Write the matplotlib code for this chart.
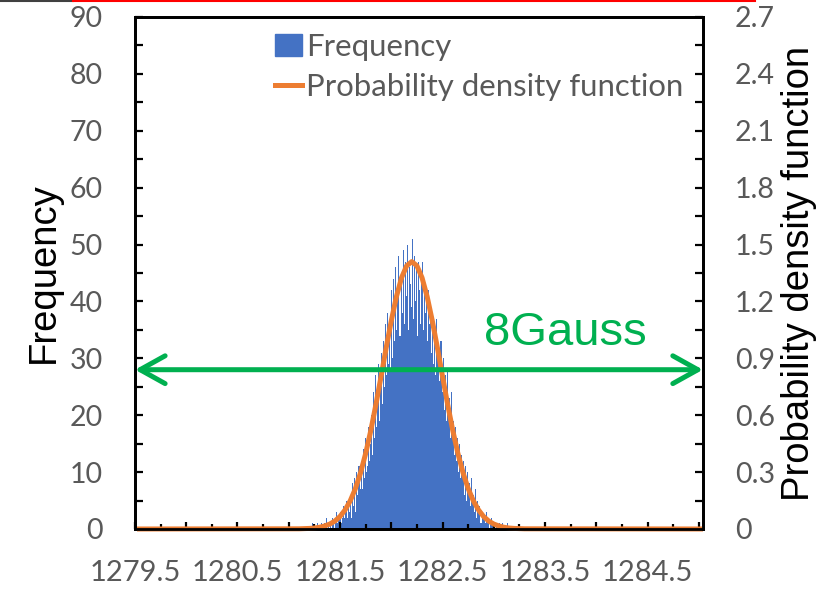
import numpy as np
import matplotlib
matplotlib.use('Agg')
import matplotlib.pyplot as plt
from matplotlib.lines import Line2D
from matplotlib.ticker import MultipleLocator

plt.rcParams['font.family'] = ['Lato', 'DejaVu Sans']

# histogram: counts per 0.01 bin, first bin starts at 1281.20
bin_start = 1281.20
bin_width = 0.01
counts = [
    0, 0, 0, 1, 0, 0, 0, 0, 1, 0,
    0, 1, 0, 0, 1, 0, 2, 0, 1, 0,
    1, 0, 2, 1, 0, 1, 3, 1, 2, 2,
    3, 1, 2, 4, 2, 3, 5, 2, 4, 3,
    6, 2, 8, 4, 9, 3, 10, 6, 11, 7,
    12, 7, 14, 9, 16, 10, 11, 18, 12, 15,
    20, 13, 24, 16, 27, 18, 22, 29, 19, 25,
    31, 22, 33, 25, 36, 27, 38, 29, 34, 28,
    42, 30, 44, 33, 46, 35, 40, 48, 34, 43,
    38, 49, 36, 47, 41, 50, 35, 46, 43, 39,
    51, 37, 48, 40, 46, 34, 47, 42, 36, 45,
    47, 35, 44, 38, 41, 33, 42, 36, 39, 31,
    38, 29, 35, 27, 37, 30, 32, 26, 33, 24,
    30, 21, 27, 19, 28, 20, 23, 16, 24, 17,
    19, 13, 18, 12, 16, 10, 15, 9, 13, 11,
    12, 6, 11, 5, 10, 7, 8, 4, 9, 5,
    6, 3, 7, 2, 5, 3, 4, 1, 3, 2,
    2, 1, 3, 1, 2, 0, 1, 2, 1, 0,
    1, 0, 1, 0, 0, 1, 0, 0, 1, 0,
    0, 0, 0, 1, 0, 0, 0, 0, 0, 0,
]

# probability density curve (right axis)
pdf_x = [1279.52, 1281.10] + list(np.round(np.arange(1281.20, 1283.201, 0.05), 2)) + [1283.30, 1285.04]
pdf_y = [0.0, 0.001,
         0.003, 0.005, 0.009, 0.016, 0.026, 0.042, 0.066, 0.101, 0.149, 0.213,
         0.296, 0.398, 0.519, 0.656, 0.804, 0.955, 1.098, 1.225, 1.325, 1.388,
         1.410,
         1.388, 1.325, 1.225, 1.098, 0.955, 0.804, 0.656, 0.519, 0.398, 0.296,
         0.213, 0.149, 0.101, 0.066, 0.042, 0.026, 0.016, 0.009, 0.005, 0.003,
         0.001, 0.0]

xtick_pos = [1279.5, 1280.0, 1280.5, 1281.0, 1281.5, 1282.0, 1282.5,
             1283.0, 1283.5, 1284.0, 1284.5, 1285.0]
xtick_labels = ['1279.5', '', '1280.5', '', '1281.5', '', '1282.5',
                '', '1283.5', '', '1284.5', '']
y2tick_labels = ['0', '0.3', '0.6', '0.9', '1.2', '1.5', '1.8', '2.1', '2.4', '2.7']

arrow_level = 28      # frequency value of the green arrow
gauss_text = '8Gauss'

grey = '#595959'
blue = '#4472C4'
orange = '#ED7D31'
green = '#00B050'

fig = plt.figure(figsize=(8.28, 5.90), dpi=100)
ax = fig.add_axes([0.163, 0.1034, 0.686, 0.8678])
ax2 = ax.twinx()

edges = bin_start + bin_width * np.arange(len(counts))
ax.bar(edges, counts, width=bin_width, align='edge', color=blue, linewidth=0)

ax2.plot(pdf_x, pdf_y, color=orange, lw=3.6, solid_joinstyle='round',
         solid_capstyle='butt', clip_on=False)

ax.set_xlim(1279.52, 1285.04)
ax.set_ylim(0, 90)
ax2.set_ylim(0, 2.7)

ax.set_xticks(xtick_pos, xtick_labels)
ax.xaxis.set_minor_locator(MultipleLocator(0.25))
ax.yaxis.set_major_locator(MultipleLocator(10))
ax.yaxis.set_minor_locator(MultipleLocator(5))
ax2.set_yticks(np.arange(0, 2.71, 0.3), y2tick_labels)
ax2.yaxis.set_minor_locator(MultipleLocator(0.15))

ax.tick_params(axis='x', which='major', direction='in', length=5, width=1.6,
               pad=22, labelsize=21, labelcolor=grey)
ax.tick_params(axis='x', which='minor', direction='in', length=3.5, width=1.6)
ax.tick_params(axis='y', which='both', direction='in', length=5.5, width=1.6,
               pad=23, labelsize=20.5, labelcolor=grey)
ax2.tick_params(axis='y', which='both', direction='in', length=5.5, width=1.6,
                pad=23, labelsize=20.5, labelcolor=grey)

for a in (ax, ax2):
    for s in a.spines.values():
        s.set_linewidth(2)
        s.set_color('black')

ax.set_ylabel('Frequency', family='Liberation Sans', fontsize=27.5, labelpad=6)
ax2.set_ylabel('Probability density function', family='Liberation Sans',
               fontsize=27.5, labelpad=4)

# green double arrow spanning the whole axis
ax2.annotate('', xy=(1.0, arrow_level), xycoords=('axes fraction', ax.transData),
             xytext=(0.0, arrow_level), textcoords=('axes fraction', ax.transData),
             arrowprops=dict(arrowstyle='<->,head_length=1.8,head_width=1.0',
                             color=green, lw=3.6, mutation_scale=10,
                             shrinkA=0, shrinkB=0),
             zorder=5, annotation_clip=False)
ax.text(1283.70, 32.3, gauss_text, transform=ax.transData, color=green,
        fontsize=34, family='Liberation Sans', ha='center', va='baseline', zorder=6)

handles = [plt.Rectangle((0, 0), 1, 1, color=blue, label='Frequency'),
           Line2D([], [], color=orange, lw=3.6, label='Probability density function')]
leg = ax2.legend(handles=handles, loc='upper left', bbox_to_anchor=(0.22, 1.0),
                 frameon=False, fontsize=22.4, handlelength=0.85, handletextpad=0.12,
                 labelspacing=0.4, borderaxespad=0.1)
for t in leg.get_texts():
    t.set_color(grey)

# thin bars along the top edge of the image
fig.add_artist(Line2D([0, 73 / 828], [0.999, 0.999], color='#404040', lw=1.5))
fig.add_artist(Line2D([73 / 828, 755 / 828], [0.999, 0.999], color='red', lw=1.5))

fig.savefig('out.png', dpi=100)
